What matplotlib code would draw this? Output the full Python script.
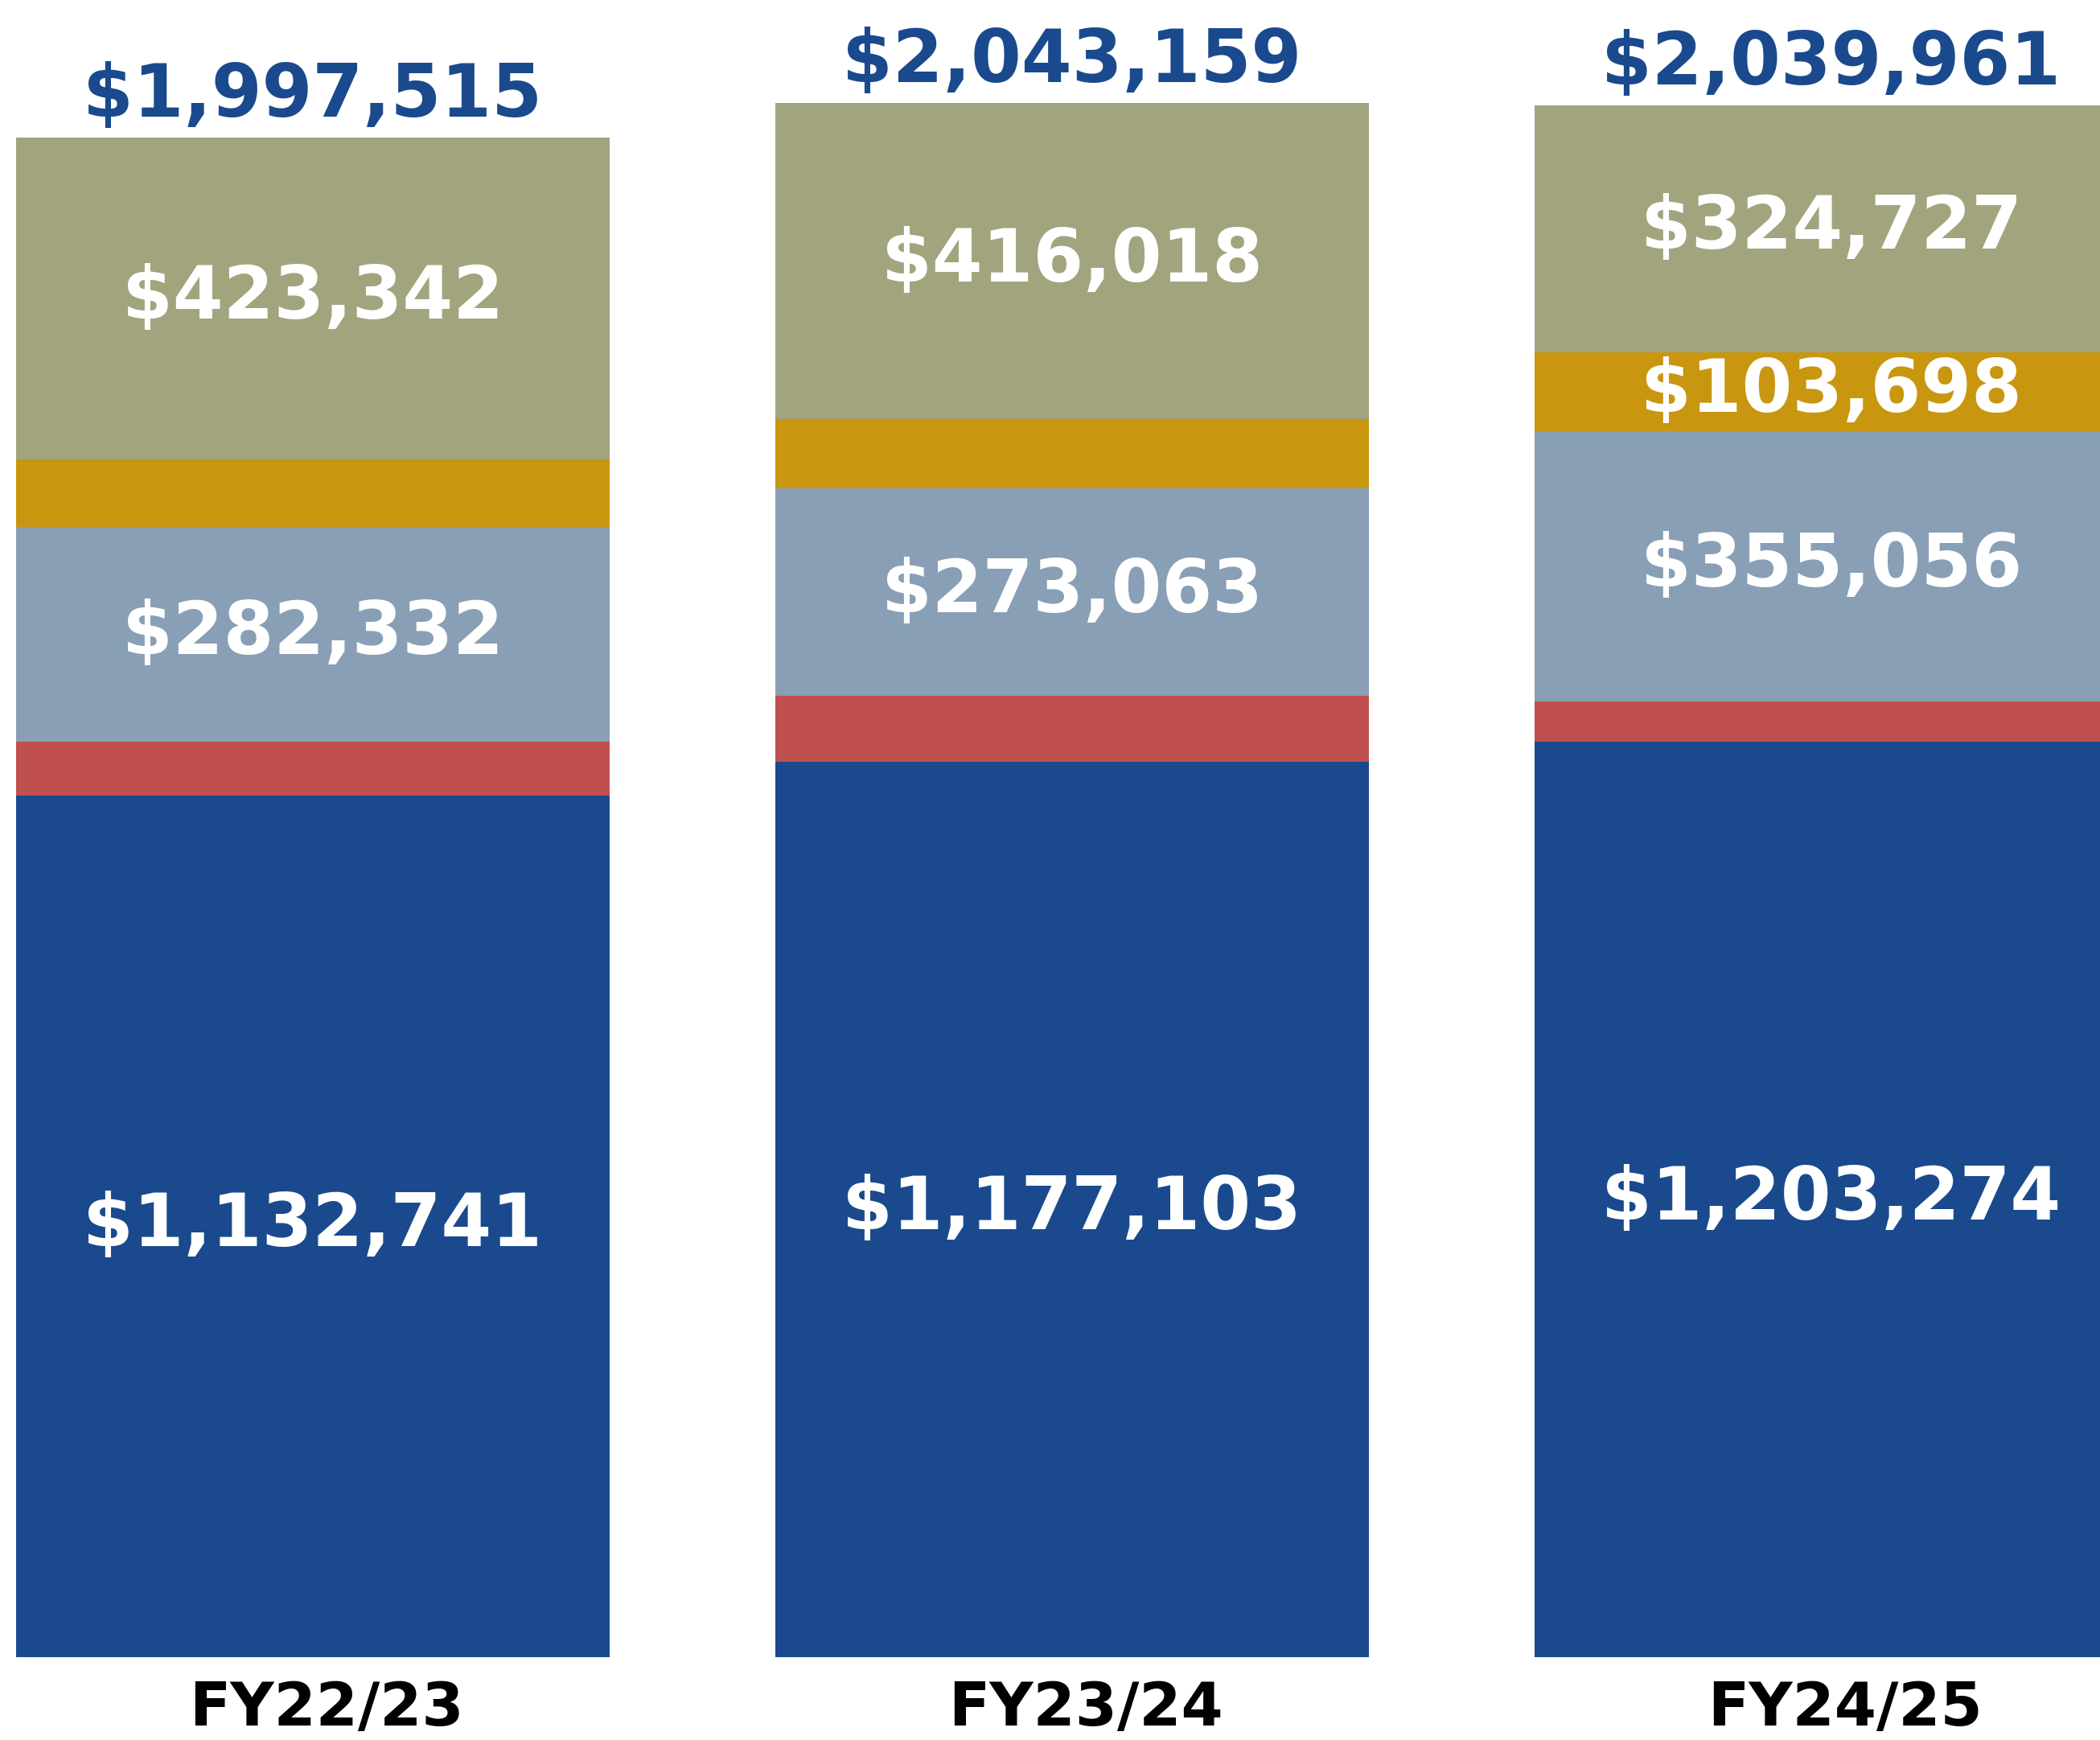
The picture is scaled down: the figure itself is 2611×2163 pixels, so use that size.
import numpy as np
import matplotlib
matplotlib.use("Agg")
import matplotlib.pyplot as plt
from matplotlib.transforms import ScaledTranslation

years = ["FY22/23", "FY23/24", "FY24/25"]
blue = [1132741, 1177103, 1203274]
red = [71000, 86700, 53206]
steel = [282332, 273063, 355056]
gold = [88100, 90275, 103698]
khaki = [423342, 416018, 324727]
totals = [1997515, 2043159, 2039961]

series = [blue, red, steel, gold, khaki]
colors = ["#1A4A8D", "#C0504D", "#889FB6", "#C8960F", "#A2A47E"]
# which segments carry a white value label, per bar
show = [
    [True, False, True, False, True],
    [True, False, True, False, True],
    [True, False, True, True, True],
]

fig = plt.figure(figsize=(26.11, 21.63), dpi=100)
ax = fig.add_axes([0, 103 / 2163, 1, 2060 / 2163])

x = np.arange(len(years))
bottom = np.zeros(len(years))
for k, (vals, col) in enumerate(zip(series, colors)):
    vals = np.array(vals, dtype=float)
    ax.bar(x, vals, width=0.782, bottom=bottom, color=col, linewidth=0)
    for i in range(len(years)):
        if show[i][k]:
            ax.text(x[i], bottom[i] + vals[i] / 2, "${:,}".format(int(vals[i])),
                    ha="center", va="center", color="white",
                    fontsize=65, fontweight="bold")
    bottom += vals

for i, t in enumerate(totals):
    ax.annotate("${:,}".format(t), (x[i], bottom[i]), xytext=(0, 19),
                textcoords="offset points", ha="center", va="baseline",
                color="#1A4A8D", fontsize=65, fontweight="bold")

ax.set_xlim(-0.412, 2.354)
ax.set_ylim(0, 2060 * 1057.5)
ax.set_xticks(x)
ax.set_xticklabels(years, fontsize=54, fontweight="bold")
ax.tick_params(axis="x", length=0, pad=20)
# category labels sit a little right of the bar centres
for lab in ax.get_xticklabels():
    lab.set_transform(lab.get_transform() + ScaledTranslation(0.17, 0, fig.dpi_scale_trans))
ax.set_yticks([])
for s in ax.spines.values():
    s.set_visible(False)

fig.savefig("out.png", dpi=100)
